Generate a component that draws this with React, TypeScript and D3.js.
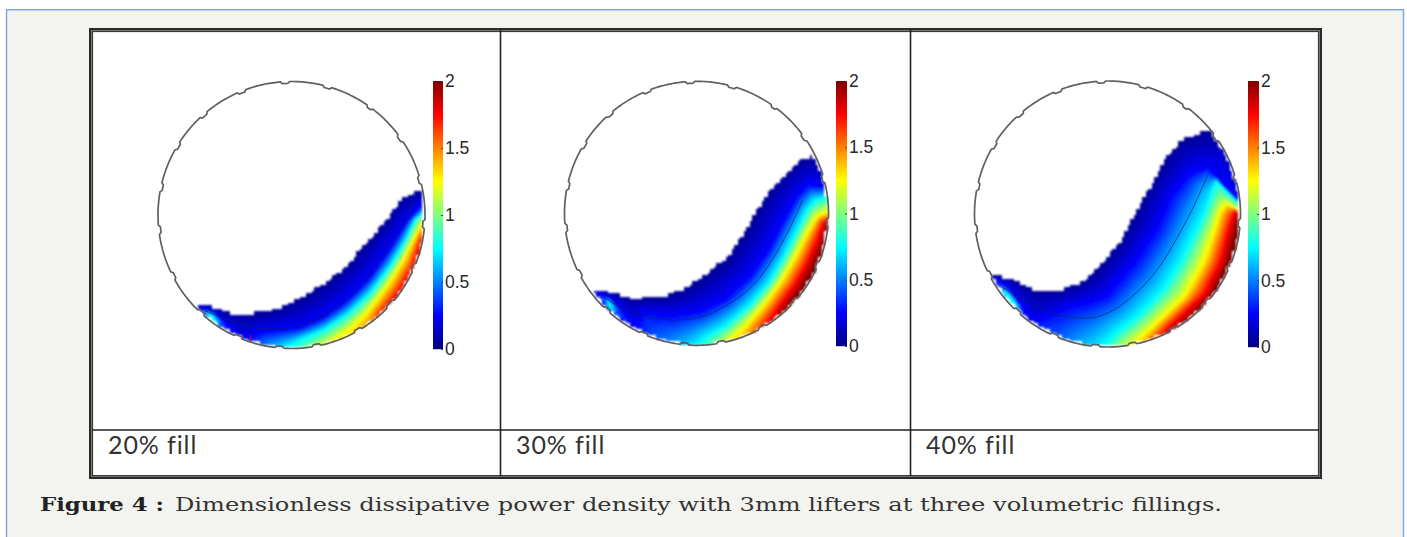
// App.tsx - dissipative power density in a lifted drum at three fillings
import React, { useEffect, useRef } from 'react';
import * as d3 from 'd3';

type Pt = [number, number];

// drum coordinates: -400..400 across the diameter, y pointing down
const lifterAngles = [-3, 16, 36, 55, 75, 94, 113, 132, 150, 169, 185, 204, 223, 242.5, 263.5, 282, 301, 319, 338];
const colorTicks = [0, 0.5, 1, 1.5, 2];
const jetValues = [0, 0.25, 0.75, 1.25, 1.75, 2];
const jetColors = ['#00007f', '#0000ff', '#00ffff', '#ffff00', '#ff0000', '#7f0000'];
const fillLabels = ['20% fill', '30% fill', '40% fill'];

const surface20: Pt[] = [[-320, 262], [-295, 265], [-250, 267], [-195, 290], [-135, 293], [-70, 285], [-15, 265], [45, 235], [115, 190], [175, 135], [235, 65], [280, 15], [325, -50], [370, -72], [395, -77], [420, -80]];
const neutral20: Pt[] = [[-265, 285], [-185, 315], [-105, 338], [-35, 342], [45, 325], [125, 285], [195, 225], [255, 155], [315, 65], [350, 5], [365, -65]];
const blue20: Pt[] = [[-155, 385], [-85, 350], [25, 340], [95, 310], [165, 260], [235, 190], [295, 105], [345, 25], [380, -15], [415, -45]];
const cyan20: Pt[] = [[-45, 410], [-5, 390], [35, 370], [95, 345], [165, 300], [235, 235], [295, 155], [340, 80], [370, 15], [415, -25]];
const yellow20: Pt[] = [[85, 405], [165, 350], [225, 295], [285, 215], [335, 135], [370, 65], [395, 20], [420, -5]];
const red20: Pt[] = [[265, 305], [325, 225], [365, 155], [385, 85], [405, 35], [425, 5]];
const toeBlue20: Pt[] = [[-270, 280], [-230, 295], [-185, 340], [-205, 345], [-245, 325]];
const toeCyan20: Pt[] = [[-252, 294], [-238, 302], [-226, 320], [-238, 314]];
const speck20: Pt[] = [[-124, 360], [-120, 382]];

const surface30: Pt[] = [[-350, 225], [-325, 228], [-290, 230], [-250, 240], [-200, 255], [-100, 250], [-30, 220], [30, 180], [90, 130], [140, 60], [180, -10], [220, -75], [270, -125], [320, -170], [355, -177], [395, -180]];
const neutral30: Pt[] = [[-280, 255], [-220, 290], [-140, 315], [-60, 323], [10, 315], [90, 280], [170, 220], [230, 140], [280, 50], [322, -40]];
const blue30: Pt[] = [[-190, 370], [-160, 305], [-70, 310], [10, 300], [90, 260], [160, 195], [220, 110], [260, 30], [305, -50], [340, -85], [420, -75]];
const cyan30: Pt[] = [[-10, 410], [30, 375], [90, 340], [160, 280], [220, 210], [260, 140], [300, 60], [335, -10], [360, -40], [420, -55]];
const yellow30: Pt[] = [[90, 395], [150, 340], [210, 270], [260, 200], [300, 130], [335, 60], [365, 10], [425, -15]];
const red30: Pt[] = [[195, 360], [254, 275], [298, 215], [332, 155], [362, 87], [384, 28], [425, 5]];
const toeBlue30: Pt[] = [[-295, 245], [-260, 260], [-215, 310], [-190, 340], [-220, 330], [-270, 290]];
const toeCyan30: Pt[] = [[-268, 268], [-260, 278], [-256, 290], [-264, 282]];

const surface40: Pt[] = [[-372, 178], [-344, 183], [-292, 193], [-222, 228], [-152, 228], [-82, 203], [-23, 152], [37, 77], [77, 2], [127, -88], [167, -163], [217, -223], [277, -248], [312, -248], [353, -249]];
const neutral40: Pt[] = [[-322, 218], [-222, 273], [-152, 303], [-72, 313], [-23, 307], [37, 277], [107, 217], [157, 157], [212, 67], [257, -18], [302, -118]];
const blue40: Pt[] = [[-242, 338], [-182, 313], [-122, 283], [-42, 263], [-3, 247], [82, 147], [147, 47], [192, -53], [247, -118], [302, -138], [392, -28], [418, -12]];
const cyan40: Pt[] = [[-32, 418], [27, 357], [97, 302], [167, 227], [217, 147], [267, 47], [292, -3], [317, -78], [327, -103], [418, -7]];
const yellow40: Pt[] = [[60, 408], [127, 347], [232, 247], [287, 147], [322, 47], [337, -3], [357, -31], [418, 3]];
const red40: Pt[] = [[135, 400], [181, 342], [290, 241], [339, 143], [364, 45], [382, -14], [418, 8]];
const toeBlue40: Pt[] = [[-339, 193], [-300, 225], [-262, 275], [-240, 325], [-272, 308], [-312, 258]];
const toeCyan40: Pt[] = [[-312, 232], [-296, 245], [-278, 268], [-272, 285], [-292, 268]];

const panels = [
  { cx: 291.5, cy: 215, r: 133.5, bar: [433, 443, 81, 349], surface: surface20, neutral: neutral20, blue: blue20, cyan: cyan20, yellow: yellow20, red: red20, toeBlue: toeBlue20, toeCyan: toeCyan20, speck: speck20 },
  { cx: 696.5, cy: 213.3, r: 132, bar: [836, 847, 81, 346], surface: surface30, neutral: neutral30, blue: blue30, cyan: cyan30, yellow: yellow30, red: red30, toeBlue: toeBlue30, toeCyan: toeCyan30, speck: null },
  { cx: 1107.5, cy: 214, r: 133, bar: [1248, 1259, 81, 347], surface: surface40, neutral: neutral40, blue: blue40, cyan: cyan40, yellow: yellow40, red: red40, toeBlue: toeBlue40, toeCyan: toeCyan40, speck: null },
];

const jet = d3.scaleLinear<string>().domain(jetValues).range(jetColors).clamp(true);

// region below a free curve, closed round the outside of the drum
const closeBelow = (c: Pt[]): Pt[] => [...c, [700, c[c.length - 1][1]], [700, 700], [c[0][0], 700]];

const segDist = (p: Pt, a: Pt, b: Pt) => {
  const dx = b[0] - a[0];
  const dy = b[1] - a[1];
  const t = Math.max(0, Math.min(1, ((p[0] - a[0]) * dx + (p[1] - a[1]) * dy) / (dx * dx + dy * dy)));
  return Math.hypot(p[0] - a[0] - t * dx, p[1] - a[1] - t * dy);
};
const lineDist = (p: Pt, c: Pt[]) => {
  let best = Infinity;
  for (let i = 1; i < c.length; i++) best = Math.min(best, segDist(p, c[i - 1], c[i]));
  return best;
};

// value at a point, shaded between the contours
const makeField = (d: typeof panels[0]) => {
  const levels = [
    { v: 0.03, main: d.surface, toe: null },
    { v: 0.25, main: d.blue, toe: d.toeBlue },
    { v: 0.75, main: d.cyan, toe: d.toeCyan },
    { v: 1.25, main: d.yellow, toe: null },
    { v: 1.75, main: d.red, toe: null },
  ].map(l => ({ ...l, poly: closeBelow(l.main) }));
  const inLevel = (l: any, p: Pt) => d3.polygonContains(l.poly, p) || (l.toe && d3.polygonContains(l.toe, p));
  const dist = (l: any, p: Pt) => {
    const m = lineDist(p, l.main);
    return l.toe ? Math.min(m, lineDist(p, [...l.toe, l.toe[0]])) : m;
  };
  return (p: Pt) => {
    let k = 0;
    levels.forEach((l, i) => { if (inLevel(l, p)) k = i; });
    const dl = dist(levels[k], p);
    if (k === levels.length - 1) return 1.75 + 0.25 * Math.min(dl / 24, 1);
    const dh = dist(levels[k + 1], p);
    return levels[k].v + (levels[k + 1].v - levels[k].v) * dl / (dl + dh);
  };
};

const App = () => {
  const svgRef = useRef<SVGSVGElement>(null);

  useEffect(() => {
    const svg = d3.select(svgRef.current);
    svg.selectAll('*').remove();

    const defs = svg.append('defs');
    defs.append('filter').attr('id', 'soft').append('feGaussianBlur').attr('stdDeviation', 0.9);
    defs.append('filter').attr('id', 'softLine').append('feGaussianBlur').attr('stdDeviation', 0.45);

    // page card
    svg.append('rect').attr('width', 1407).attr('height', 537).attr('fill', '#fff');
    svg.append('rect').attr('x', 6.5).attr('y', 9.7).attr('width', 1397).attr('height', 540)
      .attr('fill', '#f3f4ef').attr('stroke', '#7aa5dc').attr('stroke-width', 1.4);

    // table, heavy double rule round the outside
    svg.append('rect').attr('x', 91).attr('y', 30).attr('width', 1229).attr('height', 447)
      .attr('fill', '#fff').attr('stroke', '#777').attr('stroke-width', 4);
    svg.append('rect').attr('x', 90).attr('y', 29).attr('width', 1231).attr('height', 449)
      .attr('fill', 'none').attr('stroke', '#2a2a2a').attr('stroke-width', 2);
    svg.append('rect').attr('x', 92.6).attr('y', 31.6).attr('width', 1225.8).attr('height', 444)
      .attr('fill', 'none').attr('stroke', '#333').attr('stroke-width', 1);
    const table = svg.append('g').attr('stroke', '#222').attr('stroke-width', 1.6);
    [500.5, 910.5].forEach(x => table.append('line').attr('x1', x).attr('x2', x).attr('y1', 30).attr('y2', 476));
    table.append('line').attr('x1', 92).attr('x2', 1319).attr('y1', 430).attr('y2', 430);

    svg.selectAll('text.fill').data(fillLabels).join('text').attr('class', 'fill')
      .attr('x', (d, i) => [108, 516, 926][i]).attr('y', 454)
      .attr('font-family', 'Lato').attr('font-size', 25).attr('letter-spacing', 0.9).attr('fill', '#333')
      .text(d => d);

    panels.forEach((d, pi) => {
      const x = d3.scaleLinear().domain([-400, 400]).range([d.cx - d.r, d.cx + d.r]);
      const y = d3.scaleLinear().domain([-400, 400]).range([d.cy - d.r, d.cy + d.r]);
      const field = makeField(d);
      const bed = closeBelow(d.surface);

      // whole-pixel cells so neighbours leave no seams
      const cells: { px: number; py: number; v: number }[] = [];
      d3.range(Math.floor(d.cx - d.r), d.cx + d.r, 2).forEach(px => {
        d3.range(Math.floor(d.cy - d.r), d.cy + d.r, 2).forEach(py => {
          // stair-stepped edge as in the source mesh
          const snap: Pt = [x.invert(Math.round(px / 3) * 3), y.invert(Math.round(py / 3) * 3)];
          if (Math.hypot(snap[0], snap[1]) > 393 || !d3.polygonContains(bed, snap)) return;
          cells.push({ px, py, v: field([x.invert(px + 1), y.invert(py + 1)]) });
        });
      });

      const g = svg.append('g').attr('class', `panel-${pi}`);
      g.append('g').attr('filter', 'url(#soft)').attr('shape-rendering', 'crispEdges')
        .selectAll('rect').data(cells).join('rect')
        .attr('x', c => c.px).attr('y', c => c.py)
        .attr('width', 2).attr('height', 2)
        .attr('fill', c => jet(c.v));

      const line = d3.line<Pt>().x(p => x(p[0])).y(p => y(p[1])).curve(d3.curveCatmullRom);
      g.append('path').attr('d', line(d.neutral)).attr('fill', 'none')
        .attr('stroke', '#0a2a50').attr('stroke-width', 0.9).attr('stroke-opacity', 0.75).attr('filter', 'url(#softLine)');
      if (d.speck) {
        g.append('path').attr('d', line(d.speck)).attr('fill', 'none')
          .attr('stroke', '#d01010').attr('stroke-width', 1.2).attr('filter', 'url(#softLine)');
      }

      // drum wall with the lifters stepping inward
      const wall = d3.lineRadial<number>()
        .angle(a => a * Math.PI / 180)
        .radius(a => lifterAngles.some(l => Math.abs(a - l) <= 1.6 || Math.abs(a - l - 360) <= 1.6) ? d.r - 1.9 : d.r)
        .curve(d3.curveLinearClosed);
      g.append('path').attr('transform', `translate(${d.cx},${d.cy})`)
        .attr('d', wall(d3.range(0, 360, 0.8)))
        .attr('fill', 'none').attr('stroke', '#606060').attr('stroke-width', 1.7).attr('filter', 'url(#softLine)');

      // colour bar
      const [bx0, bx1, by0, by1] = d.bar;
      const c = d3.scaleLinear().domain([0, 2]).range([by1, by0]);
      const bar = g.append('g');
      bar.selectAll('rect').data(d3.range(0, by1 - by0)).join('rect')
        .attr('x', bx0).attr('width', bx1 - bx0)
        .attr('y', i => by0 + i).attr('height', 1.2)
        .attr('fill', i => jet(c.invert(by0 + i + 0.5)));
      const axis = g.append('g').attr('transform', `translate(${bx1},0)`)
        .call(d3.axisRight(c).tickValues(colorTicks).tickFormat(t => String(t)).tickSize(-2).tickPadding(2));
      axis.select('.domain').remove();
      axis.selectAll('line').attr('stroke', '#444');
      axis.selectAll('text').attr('font-family', 'Liberation Sans').attr('font-size', 17.5).attr('fill', '#2a2a2a');
    });

    svg.append('text').attr('x', 40).attr('y', 511)
      .attr('font-family', 'DejaVu Serif').attr('font-size', 19).attr('font-weight', 'bold').attr('fill', '#222')
      .attr('textLength', 124).attr('lengthAdjust', 'spacingAndGlyphs')
      .text('Figure 4 :');
    svg.append('text').attr('x', 175).attr('y', 511)
      .attr('font-family', 'DejaVu Serif').attr('font-size', 19).attr('fill', '#333')
      .attr('textLength', 1047).attr('lengthAdjust', 'spacingAndGlyphs')
      .text('Dimensionless dissipative power density with 3mm lifters at three volumetric fillings.');
  }, []);

  return <svg ref={svgRef} width={1407} height={537} style={{ position: 'fixed', left: 0, top: 0, display: 'block' }} />;
};

export default App;
